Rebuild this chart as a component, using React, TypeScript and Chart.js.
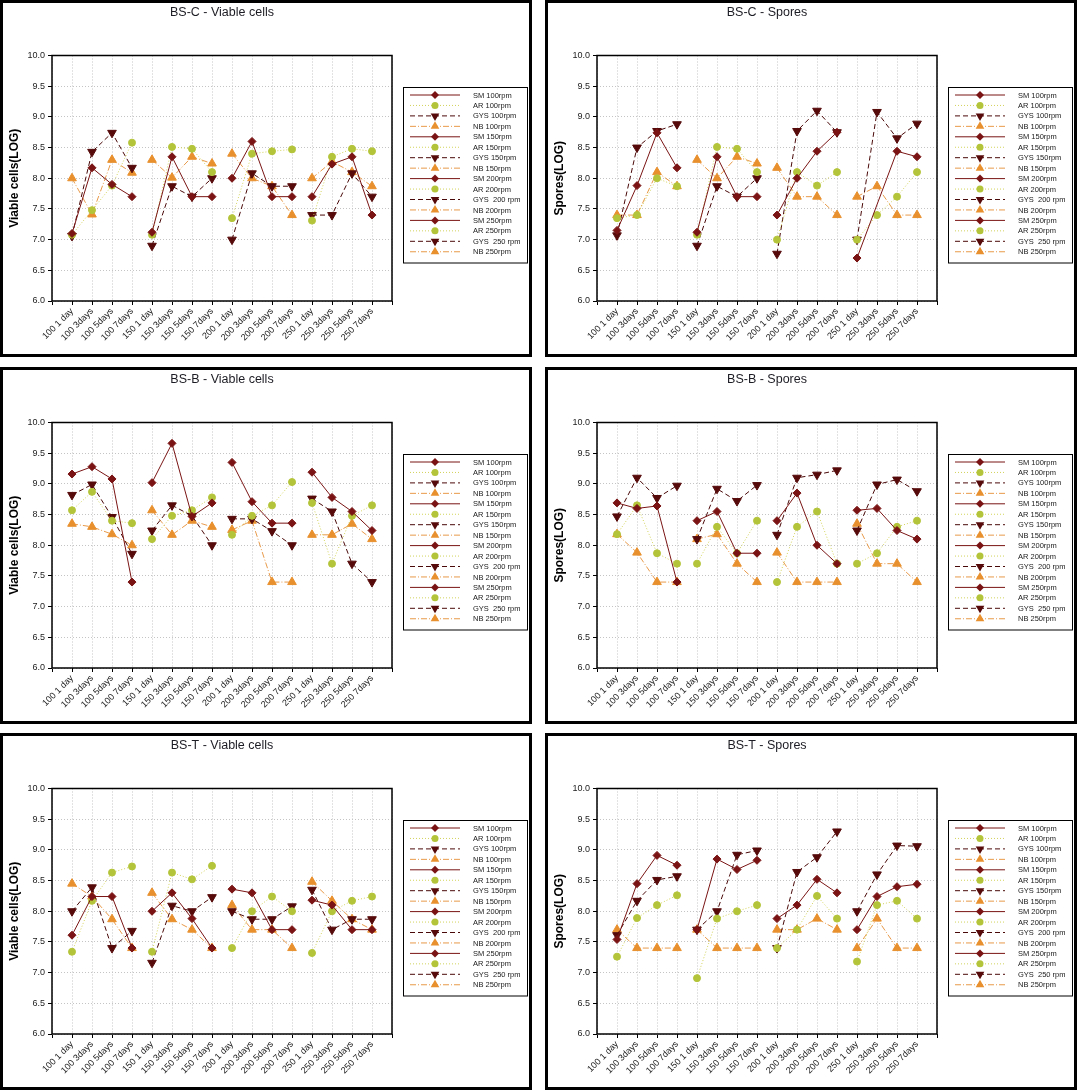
import React, { useEffect, useRef } from 'react';
import { Chart, registerables } from 'chart.js';

Chart.register(...registerables);

// ---------- categories / labels ----------
const categories = [
  '100 1 day', '100 3days', '100 5days', '100 7days',
  '150 1 day', '150 3days', '150 5days', '150 7days',
  '200 1 day', '200 3days', '200 5days', '200 7days',
  '250 1 day', '250 3days', '250 5days', '250 7days',
];
const rpmGroups = ['100', '150', '200', '250'];
const legendLabels = [
  'SM 100rpm', 'AR 100rpm', 'GYS 100rpm', 'NB 100rpm',
  'SM 150rpm', 'AR 150rpm', 'GYS 150rpm', 'NB 150rpm',
  'SM 200rpm', 'AR 200rpm', 'GYS  200 rpm', 'NB 200rpm',
  'SM 250rpm', 'AR 250rpm', 'GYS  250 rpm', 'NB 250rpm',
];
const yMin = 6;
const yMax = 10;
const yStep = 0.5;

// ---------- BS-C Viable cells ----------
const bscViableSM = [7.1, 8.17, 7.9, 7.7, 7.12, 8.35, 7.7, 7.7, 8.0, 8.6, 7.7, 7.7, 7.7, 8.23, 8.35, 7.4];
const bscViableAR = [7.08, 7.48, 7.88, 8.58, 7.08, 8.51, 8.48, 8.1, 7.35, 8.4, 8.44, 8.47, 7.31, 8.35, 8.48, 8.44];
const bscViableGYS = [7.06, 8.43, 8.74, 8.17, 6.9, 7.87, 7.7, 8.0, 7.0, 8.08, 7.87, 7.87, 7.4, 7.4, 8.08, 7.7];
const bscViableNB = [8.0, 7.41, 8.3, 8.09, 8.3, 8.01, 8.35, 8.24, 8.4, 8.0, 7.87, 7.4, 8.0, 8.27, 8.1, 7.87];

// ---------- BS-C Spores ----------
const bscSporesSM = [7.15, 7.88, 8.74, 8.17, 7.12, 8.35, 7.7, 7.7, 7.4, 8.0, 8.44, 8.75, 6.7, null, 8.44, 8.35];
const bscSporesAR = [7.35, 7.4, 8.0, 7.87, 7.08, 8.51, 8.48, 8.1, 7.0, 8.1, 7.88, 8.1, 7.0, 7.4, 7.7, 8.1];
const bscSporesGYS = [7.07, 8.5, 8.77, 8.88, 6.9, 7.87, 7.7, 8.0, 6.77, 8.77, 9.1, 8.75, 7.0, 9.08, 8.65, 8.89];
const bscSporesNB = [7.4, 7.4, 8.1, 7.87, 8.3, 8.0, 8.35, 8.24, 8.17, 7.7, 7.7, 7.4, 7.7, 7.87, 7.4, 7.4];

// ---------- BS-B Viable cells ----------
const bsbViableSM = [9.16, 9.28, 9.08, 7.4, 9.02, 9.66, 8.47, 8.69, 9.35, 8.71, 8.36, 8.36, 9.19, 8.78, 8.55, 8.24];
const bsbViableAR = [8.57, 8.87, 8.4, 8.36, 8.1, 8.48, 8.57, 8.78, 8.17, 8.48, 8.65, 9.03, 8.69, 7.7, 8.48, 8.65];
const bsbViableGYS = [8.82, 8.99, 8.46, 7.86, 8.24, 8.65, 8.48, 8.0, 8.43, 8.43, 8.23, 8.0, 8.76, 8.55, 7.7, 7.4];
const bsbViableNB = [8.35, 8.3, 8.18, 8.0, 8.57, 8.17, 8.4, 8.3, 8.25, 8.4, 7.4, 7.4, 8.17, 8.17, 8.35, 8.1];

// ---------- BS-B Spores ----------
const bsbSporesSM = [8.69, 8.6, 8.64, 7.4, 8.4, 8.55, 7.87, 7.87, 8.4, 8.85, 8.0, 7.7, 8.57, 8.6, 8.24, 8.1];
const bsbSporesAR = [8.18, 8.65, 7.87, 7.7, 7.7, 8.3, 7.87, 8.4, 7.4, 8.3, 8.55, 7.7, 7.7, 7.87, 8.3, 8.4];
const bsbSporesGYS = [8.47, 9.1, 8.77, 8.97, 8.1, 8.92, 8.72, 8.98, 8.17, 9.1, 9.15, 9.22, 8.24, 8.99, 9.07, 8.88];
const bsbSporesNB = [8.18, 7.88, 7.4, 7.4, 8.1, 8.18, 7.7, 7.4, 7.88, 7.4, 7.4, 7.4, 8.35, 7.7, 7.7, 7.4];

// ---------- BS-T Viable cells ----------
const bstViableSM = [7.61, 8.24, 8.24, 7.4, 8.0, 8.3, 7.88, 7.4, 8.36, 8.3, 7.7, 7.7, 8.18, 8.1, 7.7, 7.7];
const bstViableAR = [7.34, 8.17, 8.63, 8.73, 7.34, 8.63, 8.52, 8.74, 7.4, 8.0, 8.24, 8.0, 7.32, 8.0, 8.17, 8.24];
const bstViableGYS = [8.0, 8.39, 7.4, 7.68, 7.16, 8.09, 8.0, 8.23, 8.0, 7.87, 7.87, 8.08, 8.35, 7.7, 7.87, 7.87];
const bstViableNB = [8.45, 8.24, 7.87, 7.4, 8.3, 7.87, 7.7, 7.4, 8.1, 7.7, 7.7, 7.4, 8.48, 8.17, 7.87, 7.7];

// ---------- BS-T Spores ----------
const bstSporesSM = [7.54, 8.45, 8.91, 8.75, 7.7, 8.85, 8.68, 8.83, 7.88, 8.1, 8.52, 8.3, 7.7, 8.24, 8.4, 8.44];
const bstSporesAR = [7.26, 7.89, 8.1, 8.26, 6.91, 7.88, 8.0, 8.1, 7.4, 7.7, 8.25, 7.88, 7.18, 8.1, 8.17, 7.88];
const bstSporesGYS = [7.61, 8.17, 8.51, 8.57, 7.7, 8.0, 8.92, 8.99, 7.4, 8.64, 8.88, 9.3, 8.0, 8.6, 9.07, 9.06];
const bstSporesNB = [7.7, 7.4, 7.4, 7.4, 7.7, 7.4, 7.4, 7.4, 7.7, 7.7, 7.88, 7.7, 7.4, 7.88, 7.4, 7.4];

type Series = (number | null)[];
interface PanelDef {
  title: string;
  yTitle: string;
  series: Series[]; // SM, AR, GYS, NB
}

const panels: PanelDef[] = [
  { title: 'BS-C - Viable cells', yTitle: 'Viable cells(LOG)', series: [bscViableSM, bscViableAR, bscViableGYS, bscViableNB] },
  { title: 'BS-C - Spores', yTitle: 'Spores(LOG)', series: [bscSporesSM, bscSporesAR, bscSporesGYS, bscSporesNB] },
  { title: 'BS-B - Viable cells', yTitle: 'Viable cells(LOG)', series: [bsbViableSM, bsbViableAR, bsbViableGYS, bsbViableNB] },
  { title: 'BS-B - Spores', yTitle: 'Spores(LOG)', series: [bsbSporesSM, bsbSporesAR, bsbSporesGYS, bsbSporesNB] },
  { title: 'BS-T - Viable cells', yTitle: 'Viable cells(LOG)', series: [bstViableSM, bstViableAR, bstViableGYS, bstViableNB] },
  { title: 'BS-T - Spores', yTitle: 'Spores(LOG)', series: [bstSporesSM, bstSporesAR, bstSporesGYS, bstSporesNB] },
];

// ---------- styles ----------
interface MediumStyle {
  line: string;
  point: string;
  dash: number[];
  shape: 'rectRot' | 'circle' | 'triangle';
  radius: number;
  rotation: number;
}
const mediumStyles: MediumStyle[] = [
  { line: '#7a1414', point: '#7a1414', dash: [], shape: 'rectRot', radius: 4, rotation: 0 },
  { line: '#d2d25a', point: '#b4c43a', dash: [1, 2], shape: 'circle', radius: 3.5, rotation: 0 },
  { line: '#4a0909', point: '#560a0a', dash: [5, 3], shape: 'triangle', radius: 5, rotation: 180 },
  { line: '#e89a4a', point: '#e8902e', dash: [6, 2, 1, 2], shape: 'triangle', radius: 5, rotation: 0 },
];

const FONT = '"Liberation Sans", Arial, sans-serif';
const CANVAS_W = 526;
const CANVAS_H = 351;
const PLOT_LEFT = 49;
const PLOT_TOP = 52.5;
const PLOT_RIGHT = 389;
const PLOT_BOTTOM = 298;

function drawMarker(ctx: CanvasRenderingContext2D, st: MediumStyle, x: number, y: number) {
  const r = st.radius;
  ctx.beginPath();
  if (st.shape === 'rectRot') {
    ctx.moveTo(x, y - r);
    ctx.lineTo(x + r, y);
    ctx.lineTo(x, y + r);
    ctx.lineTo(x - r, y);
    ctx.closePath();
  } else if (st.shape === 'circle') {
    ctx.arc(x, y, r, 0, Math.PI * 2);
  } else {
    let rad = (st.rotation * Math.PI) / 180;
    for (let k = 0; k < 3; k++) {
      const px = x + Math.sin(rad) * r;
      const py = y - Math.cos(rad) * r;
      if (k === 0) ctx.moveTo(px, py);
      else ctx.lineTo(px, py);
      rad += (2 * Math.PI) / 3;
    }
    ctx.closePath();
  }
  ctx.fillStyle = st.point;
  ctx.fill();
}

function PanelChart({ panel }: { panel: PanelDef }) {
  const ref = useRef<HTMLCanvasElement | null>(null);

  useEffect(() => {
    const canvas = ref.current;
    if (!canvas) return;
    const labels = ['', ...categories, ''];
    const datasets: any[] = [];
    rpmGroups.forEach((_rpm, g) => {
      panel.series.forEach((vals, m) => {
        const st = mediumStyles[m];
        const data = labels.map((_l, i) => {
          const k = i - 1;
          if (k >= g * 4 && k < g * 4 + 4) return vals[k];
          return null;
        });
        datasets.push({
          label: legendLabels[g * 4 + m],
          data,
          borderColor: st.line,
          borderWidth: 1,
          borderDash: st.dash,
          backgroundColor: st.point,
          pointBackgroundColor: st.point,
          pointBorderColor: st.point,
          pointBorderWidth: 1,
          pointStyle: st.shape,
          pointRadius: st.radius,
          pointRotation: st.rotation,
          pointHoverRadius: st.radius,
          spanGaps: true,
          tension: 0,
          fill: false,
        });
      });
    });

    const decor = {
      id: 'panelDecor',
      beforeDatasetsDraw(chart: any) {
        const { ctx, chartArea } = chart;
        ctx.save();
        ctx.setLineDash([]);
        ctx.strokeStyle = '#000';
        ctx.lineWidth = 1.5;
        ctx.strokeRect(chartArea.left, chartArea.top, chartArea.right - chartArea.left, chartArea.bottom - chartArea.top);
        ctx.restore();
      },
      afterDraw(chart: any) {
        const { ctx, chartArea } = chart;
        ctx.save();
        // title
        ctx.fillStyle = '#1c1c24';
        ctx.font = `12.5px ${FONT}`;
        ctx.textAlign = 'center';
        ctx.textBaseline = 'middle';
        ctx.fillText(panel.title, (chartArea.left + chartArea.right) / 2, 10);
        // legend box
        const bx = 400.5;
        const by = 84.5;
        const bw = 124;
        const bh = 175.5;
        ctx.fillStyle = '#fff';
        ctx.fillRect(bx, by, bw, bh);
        ctx.strokeStyle = '#000';
        ctx.lineWidth = 1;
        ctx.setLineDash([]);
        ctx.strokeRect(bx, by, bw, bh);
        const rowH = 10.45;
        for (let i = 0; i < 16; i++) {
          const st = mediumStyles[i % 4];
          const y = 92 + i * rowH;
          ctx.save();
          ctx.strokeStyle = st.line;
          ctx.lineWidth = 1;
          ctx.setLineDash(st.dash);
          ctx.beginPath();
          ctx.moveTo(407, y);
          ctx.lineTo(457, y);
          ctx.stroke();
          ctx.setLineDash([]);
          drawMarker(ctx, st, 432, y);
          ctx.restore();
          ctx.fillStyle = '#1a1a1a';
          ctx.font = `7.5px ${FONT}`;
          ctx.textAlign = 'left';
          ctx.textBaseline = 'middle';
          ctx.fillText(legendLabels[i], 470, y + 0.5);
        }
        ctx.restore();
      },
    };

    const chart = new Chart(canvas, {
      type: 'line',
      data: { labels, datasets },
      options: {
        animation: false,
        responsive: false,
        maintainAspectRatio: false,
        events: [],
        layout: {
          padding: { left: 0, top: PLOT_TOP, right: CANVAS_W - PLOT_RIGHT, bottom: 0 },
        },
        plugins: {
          legend: { display: false },
          title: { display: false },
          tooltip: { enabled: false },
        },
        scales: {
          x: {
            type: 'category',
            offset: false,
            afterFit: (scale: any) => {
              scale.height = CANVAS_H - PLOT_BOTTOM;
            },
            grid: {
              color: '#c4c4c4',
              lineWidth: 1,
              drawTicks: true,
              tickLength: 4,
              tickColor: '#000',
              tickWidth: 1,
              tickBorderDash: [],
            },
            border: { display: false, dash: [1, 2] },
            ticks: {
              autoSkip: false,
              minRotation: 45,
              maxRotation: 45,
              padding: 1,
              color: '#222',
              font: { family: FONT, size: 9 },
            },
          },
          y: {
            type: 'linear',
            min: yMin,
            max: yMax,
            afterFit: (scale: any) => {
              scale.width = PLOT_LEFT;
            },
            grid: {
              color: '#c4c4c4',
              lineWidth: 1,
              drawTicks: true,
              tickLength: 4,
              tickColor: '#000',
              tickWidth: 1,
              tickBorderDash: [],
            },
            border: { display: false, dash: [1, 2] },
            ticks: {
              stepSize: yStep,
              padding: 3,
              color: '#222',
              font: { family: FONT, size: 9 },
              callback: (v: any) => Number(v).toFixed(1),
            },
            title: {
              display: true,
              text: panel.yTitle,
              color: '#000',
              font: { family: FONT, size: 12, weight: 'bold' },
              padding: { top: 4, bottom: 0 },
            },
          },
        },
      },
      plugins: [decor],
    } as any);
    return () => chart.destroy();
  }, [panel]);

  return <canvas ref={ref} width={CANVAS_W} height={CANVAS_H} style={{ display: 'block', width: CANVAS_W, height: CANVAS_H }} />;
}

const colLefts = [0, 545];
const rowTops = [0, 367, 733];

export default function App() {
  return (
    <div style={{ position: 'absolute', left: 0, top: 0, width: 1078, height: 1091, background: '#fff' }}>
      {panels.map((p, i) => (
        <div
          key={p.title}
          style={{
            position: 'absolute',
            left: colLefts[i % 2],
            top: rowTops[Math.floor(i / 2)],
            width: 532,
            height: 357,
            border: '3px solid #000',
            boxSizing: 'border-box',
            background: '#fff',
          }}
        >
          <PanelChart panel={p} />
        </div>
      ))}
    </div>
  );
}
